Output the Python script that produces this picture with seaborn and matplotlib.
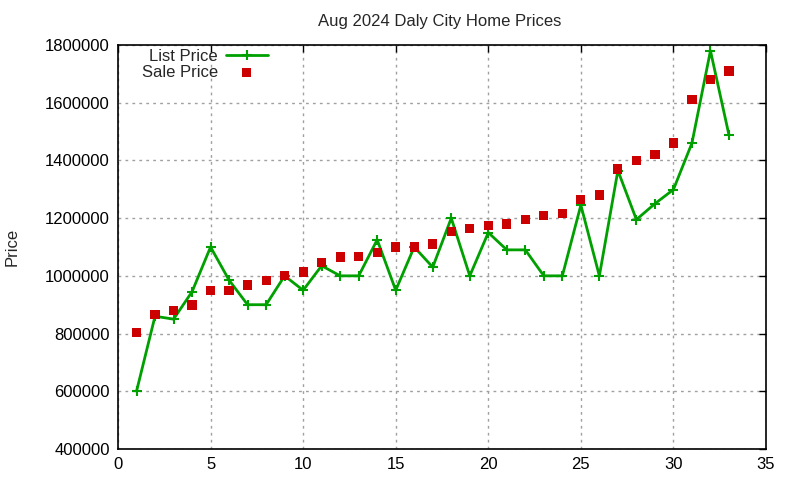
import matplotlib
matplotlib.use('Agg')
import matplotlib.pyplot as plt
import seaborn as sns
import pandas as pd

# values
day = list(range(1, 34))
list_price = [600000, 860000, 850000, 945000, 1100000, 985000, 900000, 900000,
              1000000, 950000, 1035000, 1000000, 1000000, 1125000, 950000, 1100000,
              1030000, 1200000, 1000000, 1150000, 1090000, 1090000, 1000000, 1000000,
              1245000, 1000000, 1365000, 1195000, 1250000, 1299000, 1460000, 1780000,
              1488000]
sale_price = [805000, 865000, 880000, 899000, 950000, 950000, 968000, 985000,
              1000000, 1013000, 1047000, 1065000, 1067000, 1080000, 1100000, 1100000,
              1110000, 1155000, 1165000, 1175000, 1180000, 1195000, 1210000, 1215000,
              1265000, 1280000, 1370000, 1400000, 1420000, 1460000, 1610000, 1680000,
              1710000]

df = pd.DataFrame({'day': day, 'list': list_price, 'sale': sale_price})

sns.set_style('white')
plt.rcParams['font.family'] = ['Liberation Sans', 'DejaVu Sans']

green = '#00a000'
red = '#cc0000'

fig = plt.figure(figsize=(8, 4.8), dpi=100)
ax = fig.add_axes([0.1475, 0.0646, 0.81, 0.8417])

sns.lineplot(data=df, x='day', y='list', ax=ax, color=green, linewidth=2,
             marker='+', markersize=7, markeredgewidth=1.5,
             markeredgecolor=green, markerfacecolor=green, label='List Price')
sns.scatterplot(data=df, x='day', y='sale', ax=ax, color=red, marker='s',
                s=44, edgecolor='none', label='Sale Price', zorder=3)

ax.set_xlim(0, 35)
ax.set_ylim(400000, 1800000)
ax.set_xticks(range(0, 36, 5))
ax.set_yticks(range(400000, 1800001, 200000))
ax.ticklabel_format(style='plain', axis='y', useOffset=False)
ax.grid(True, color='#a0a0a0', linestyle=(0, (2, 3)), linewidth=1)
ax.tick_params(direction='in', length=5, width=1, top=True, right=True,
               labelsize=12, colors='black', pad=6)
for s in ax.spines.values():
    s.set_color('black')
    s.set_linewidth(1.2)

ax.set_xlabel('')
ax.set_ylabel('Price', fontsize=12, labelpad=18)
fig.text(0.55, 0.955, 'Aug 2024 Daly City Home Prices', ha='center', va='center', fontsize=12)

leg = ax.legend(loc='upper right', bbox_to_anchor=(0.231, 0.99), frameon=False,
                markerfirst=False, fontsize=12, handlelength=2.5, labelspacing=0.05,
                handletextpad=0.5, borderaxespad=0, borderpad=0)
for t in leg.get_texts():
    t.set_ha('right')
leg._legend_box.align = 'right'

fig.savefig('out.png', dpi=100)
